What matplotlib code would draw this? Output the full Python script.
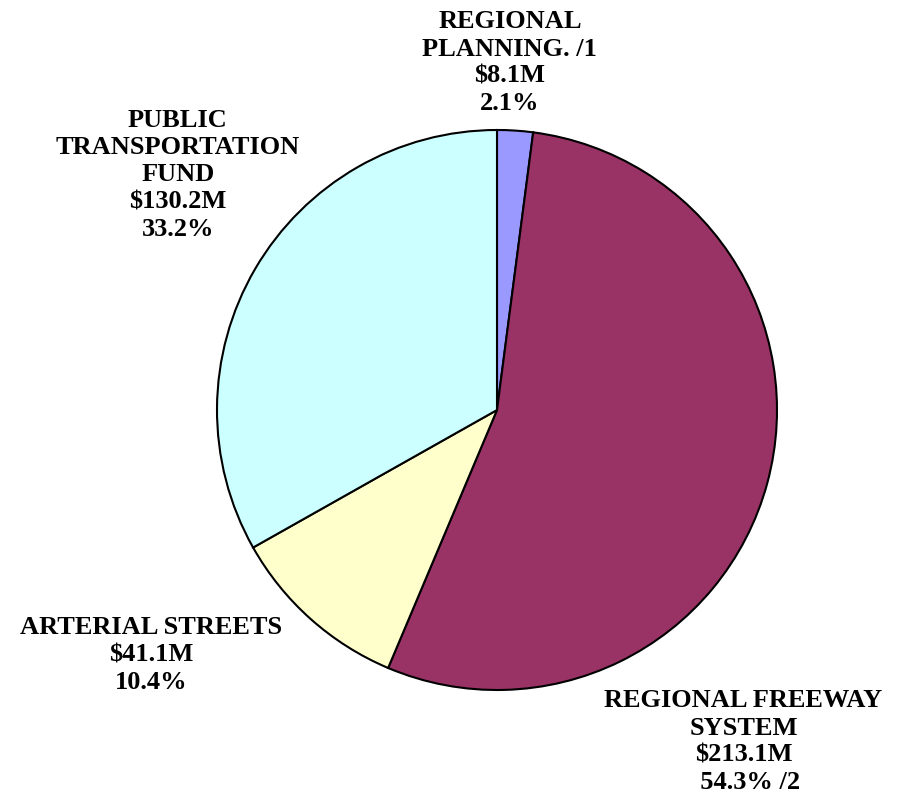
import matplotlib.pyplot as plt

# данные
labels = ['REGIONAL\nPLANNING. /1', 'REGIONAL FREEWAY\nSYSTEM', 'ARTERIAL STREETS',
          'PUBLIC\nTRANSPORTATION\nFUND']
amounts = [8.1, 213.1, 41.1, 130.2]  # $M
shares = ['2.1%', '  54.3% /2', '10.4%', '33.2%']
colors = ['#9999FF', '#993366', '#FFFFCC', '#CCFFFF']

# положения подписей (в координатах осей пирога)
label_pos = [(0.046, 1.24), (0.88, -1.185), (-1.235, -0.875), (-1.14, 0.84)]

fig = plt.figure(figsize=(9.13, 7.97), dpi=100)
ax = fig.add_axes([217 / 913, 107 / 797, 560 / 913, 560 / 797])

ax.pie(amounts, colors=colors, startangle=90, counterclock=False, radius=1.0,
       wedgeprops=dict(edgecolor='black', linewidth=1.5))
ax.set_xlim(-1, 1)
ax.set_ylim(-1, 1)
ax.set_aspect('auto')
ax.axis('off')

for lab, amt, sh, (x, y) in zip(labels, amounts, shares, label_pos):
    txt = f'{lab}\n${amt:.1f}M\n{sh}'
    ax.text(x, y, txt, ha='center', va='center', multialignment='center',
            family='Liberation Serif', fontweight='bold', fontsize=19,
            linespacing=1.24, clip_on=False)

fig.savefig('out.png', dpi=100)
